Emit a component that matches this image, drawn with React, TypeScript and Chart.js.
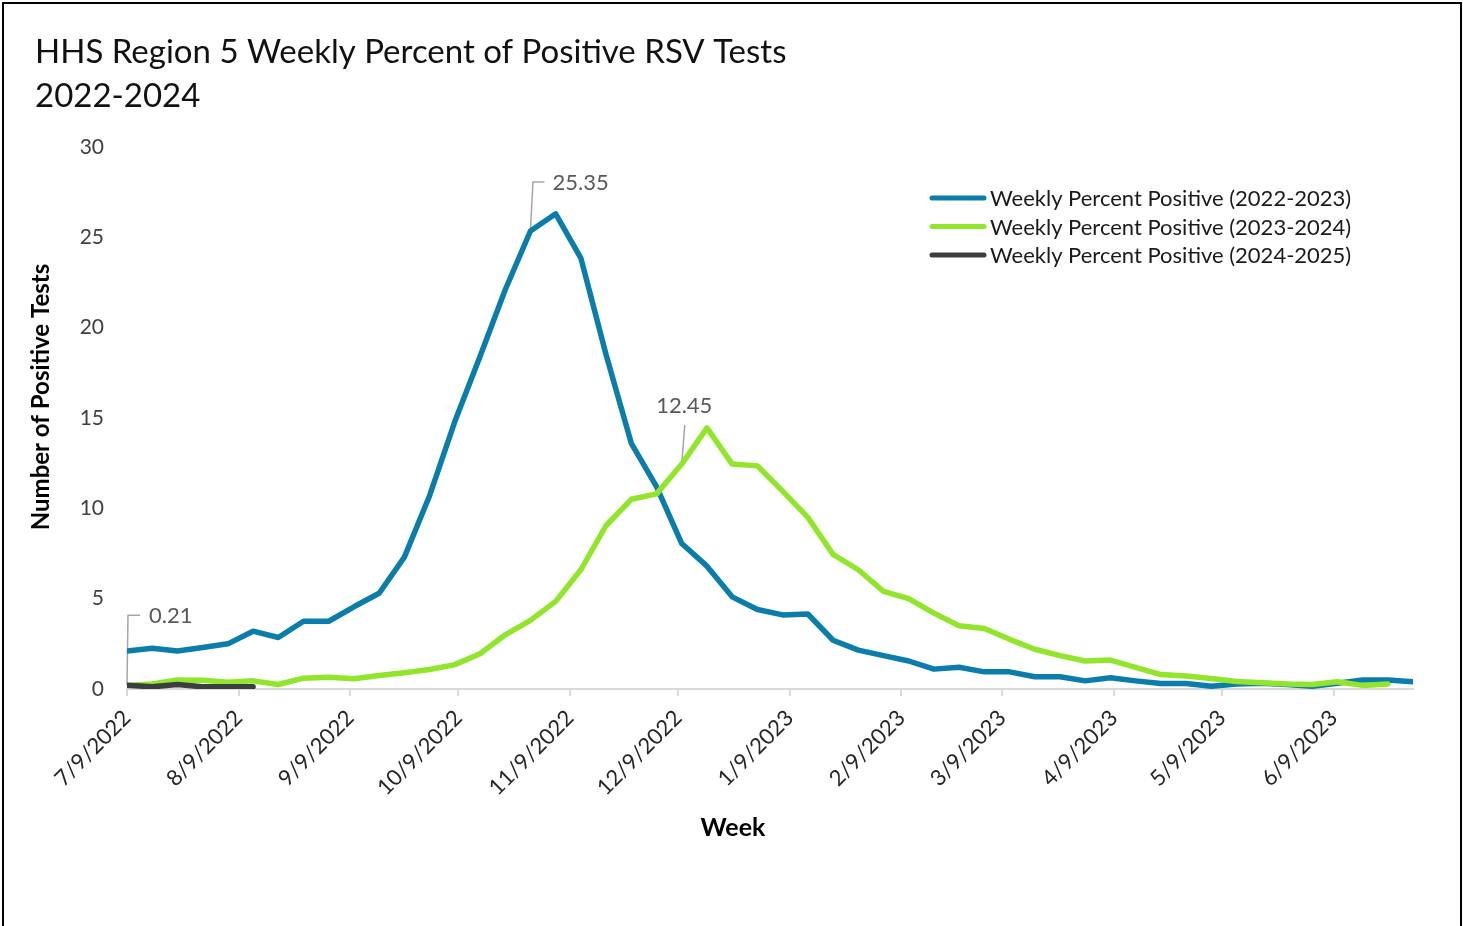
import React, { useEffect, useRef } from 'react';
import { Chart, registerables } from 'chart.js';

Chart.register(...registerables);

// ---- text ----
const TITLE_LINES = ['HHS Region 5 Weekly Percent of Positive RSV Tests', '2022-2024'];
const X_TITLE = 'Week';
const Y_TITLE = 'Number of Positive Tests';
const SERIES_LABELS = [
  'Weekly Percent Positive (2022-2023)',
  'Weekly Percent Positive (2023-2024)',
  'Weekly Percent Positive (2024-2025)',
];
const SERIES_COLORS = ['#0B7DAA', '#91E62B', '#3B3E40'];

// ---- axes ----
// weekly observations, first week = 7/9/2022 (x measured in days since then)
const WEEK_DAYS = 7;
const X_MAX_DAY = 357;
const X_TICK_DAYS = [0, 31, 62, 92, 123, 153, 184, 215, 243, 274, 304, 335];
const X_TICK_LABELS = [
  '7/9/2022', '8/9/2022', '9/9/2022', '10/9/2022', '11/9/2022', '12/9/2022',
  '1/9/2023', '2/9/2023', '3/9/2023', '4/9/2023', '5/9/2023', '6/9/2023',
];
const Y_TICKS = [0, 5, 10, 15, 20, 25, 30];

// ---- series values (percent positive per week) ----
const season2022 = [
  2.1, 2.25, 2.1, 2.3, 2.5, 3.2, 2.85, 3.75, 3.75, 4.55,
  5.3, 7.3, 10.7, 14.8, 18.4, 22.1, 25.35, 26.3, 23.85, 18.5,
  13.6, 11.2, 8.05, 6.8, 5.1, 4.4, 4.1, 4.15, 2.7, 2.15,
  1.85, 1.55, 1.1, 1.2, 0.95, 0.95, 0.68, 0.68, 0.45, 0.62,
  0.45, 0.3, 0.3, 0.15, 0.28, 0.32, 0.25, 0.15, 0.32, 0.5,
  0.5, 0.4,
];
const season2023 = [
  0.2, 0.28, 0.5, 0.48, 0.38, 0.45, 0.25, 0.6, 0.65, 0.57,
  0.75, 0.9, 1.08, 1.35, 1.95, 3.0, 3.8, 4.85, 6.6, 9.05,
  10.5, 10.8, 12.45, 14.45, 12.45, 12.35, 10.95, 9.5, 7.45, 6.6,
  5.4, 5.0, 4.2, 3.5, 3.35, 2.75, 2.2, 1.85, 1.55, 1.6,
  1.2, 0.8, 0.72, 0.58, 0.42, 0.35, 0.28, 0.25, 0.4, 0.2,
  0.28,
];
const season2024 = [0.21, 0.12, 0.25, 0.12, 0.12, 0.13];

// labelled point of each series (index into its values)
const CALLOUT_INDEX = [16, 22, 0];

const FONT = 'Lato, "Open Sans", sans-serif';

const decorPlugin = {
  id: 'decor',
  beforeDraw(chart: any) {
    const ctx = chart.ctx;
    ctx.save();
    ctx.fillStyle = '#ffffff';
    ctx.fillRect(0, 0, chart.width, chart.height);
    ctx.restore();
  },
  beforeDatasetsDraw(chart: any) {
    const ctx = chart.ctx;
    const xs = chart.scales.x;
    const ys = chart.scales.y;
    ctx.save();
    ctx.strokeStyle = '#A6A6A6';
    ctx.lineWidth = 1.5;
    CALLOUT_INDEX.forEach((idx, s) => {
      const pt = chart.data.datasets[s].data[idx];
      const px = xs.getPixelForValue(pt.x);
      const py = ys.getPixelForValue(pt.y);
      ctx.beginPath();
      if (s === 0) {
        ctx.moveTo(px, py);
        ctx.lineTo(px + 2.5, py - 49);
        ctx.lineTo(px + 14, py - 49);
      } else if (s === 1) {
        ctx.moveTo(px, py);
        ctx.lineTo(px + 3, py - 39);
      } else {
        ctx.moveTo(px, py);
        ctx.lineTo(px + 1, py - 70);
        ctx.lineTo(px + 13, py - 70);
      }
      ctx.stroke();
    });
    ctx.restore();
  },
  afterDraw(chart: any) {
    const ctx = chart.ctx;
    const xs = chart.scales.x;
    const ys = chart.scales.y;
    ctx.save();

    // frame
    ctx.strokeStyle = '#000000';
    ctx.lineWidth = 2;
    ctx.beginPath();
    ctx.moveTo(3, 940);
    ctx.lineTo(3, 3);
    ctx.lineTo(1461, 3);
    ctx.lineTo(1461, 940);
    ctx.stroke();

    // title
    ctx.fillStyle = '#111111';
    ctx.textAlign = 'left';
    ctx.textBaseline = 'middle';
    ctx.font = `33px ${FONT}`;
    ctx.fillText(TITLE_LINES[0], 35, 52);
    ctx.fillText(TITLE_LINES[1], 35, 96);

    // axis titles
    ctx.textAlign = 'center';
    ctx.fillStyle = '#000000';
    ctx.font = `bold 25px ${FONT}`;
    ctx.fillText(X_TITLE, 733, 828);
    ctx.font = `bold 24px ${FONT}`;
    ctx.save();
    ctx.translate(41, 397);
    ctx.rotate(-Math.PI / 2);
    ctx.fillText(Y_TITLE, 0, 0);
    ctx.restore();

    // callout labels
    ctx.font = `22px ${FONT}`;
    ctx.fillStyle = '#595959';
    CALLOUT_INDEX.forEach((idx, s) => {
      const pt = chart.data.datasets[s].data[idx];
      const px = xs.getPixelForValue(pt.x);
      const py = ys.getPixelForValue(pt.y);
      const txt = pt.y.toFixed(2);
      if (s === 0) {
        ctx.textAlign = 'left';
        ctx.fillText(txt, px + 22, py - 48);
      } else if (s === 1) {
        ctx.textAlign = 'center';
        ctx.fillText(txt, px + 2.5, py - 58);
      } else {
        ctx.textAlign = 'left';
        ctx.fillText(txt, px + 22, py - 69);
      }
    });

    // legend
    const rowsY = [198, 226.5, 255];
    ctx.font = `22px ${FONT}`;
    ctx.textAlign = 'left';
    ctx.lineCap = 'round';
    SERIES_LABELS.forEach((label, i) => {
      ctx.strokeStyle = SERIES_COLORS[i];
      ctx.lineWidth = 5;
      ctx.beginPath();
      ctx.moveTo(932, rowsY[i]);
      ctx.lineTo(984, rowsY[i]);
      ctx.stroke();
      ctx.fillStyle = '#1a1a1a';
      ctx.fillText(label, 990, rowsY[i] + 1);
    });

    ctx.restore();
  },
};

export default function App() {
  const canvasRef = useRef<HTMLCanvasElement | null>(null);

  useEffect(() => {
    if (!canvasRef.current) return;
    const series = [season2022, season2023, season2024];
    const chart = new Chart(canvasRef.current, {
      type: 'line',
      data: {
        datasets: series.map((vals, i) => ({
          label: SERIES_LABELS[i],
          data: vals.map((v, k) => ({ x: k * WEEK_DAYS, y: v })),
          borderColor: SERIES_COLORS[i],
          backgroundColor: SERIES_COLORS[i],
          borderWidth: 5.5,
          pointRadius: 0,
          tension: 0,
          fill: false,
          borderJoinStyle: 'round' as const,
          borderCapStyle: 'round' as const,
          order: 3 - i,
        })),
      },
      options: {
        responsive: false,
        animation: false,
        devicePixelRatio: 1,
        layout: { padding: { top: 147, right: 50, left: 0, bottom: 0 } },
        plugins: {
          legend: { display: false },
          title: { display: false },
          tooltip: { enabled: false },
        },
        scales: {
          x: {
            type: 'linear',
            min: 0,
            max: X_MAX_DAY,
            afterBuildTicks: (s: any) => {
              s.ticks = X_TICK_DAYS.map((v) => ({ value: v }));
            },
            afterFit: (s: any) => {
              s.height = 237;
            },
            ticks: {
              autoSkip: false,
              minRotation: 45,
              maxRotation: 45,
              padding: 9,
              color: '#262626',
              font: { family: FONT, size: 22 },
              callback: (_v: any, i: number) => X_TICK_LABELS[i],
            },
            grid: {
              display: true,
              drawOnChartArea: false,
              drawTicks: true,
              tickLength: 7,
              color: '#D9D9D9',
              lineWidth: 2,
            },
            border: { display: true, color: '#D9D9D9', width: 2 },
          },
          y: {
            type: 'linear',
            min: 0,
            max: 30,
            afterBuildTicks: (s: any) => {
              s.ticks = Y_TICKS.map((v) => ({ value: v }));
            },
            afterFit: (s: any) => {
              s.width = 127;
            },
            ticks: {
              padding: 23,
              color: '#404040',
              font: { family: FONT, size: 21 },
            },
            grid: { display: false, drawTicks: false },
            border: { display: false },
          },
        },
      },
      plugins: [decorPlugin],
    });
    return () => chart.destroy();
  }, []);

  return (
    <div style={{ position: 'fixed', left: 0, top: 0, width: 1463, height: 926, background: '#fff', overflow: 'hidden' }}>
      <canvas ref={canvasRef} width={1463} height={926} style={{ display: 'block', width: 1463, height: 926 }} />
    </div>
  );
}
